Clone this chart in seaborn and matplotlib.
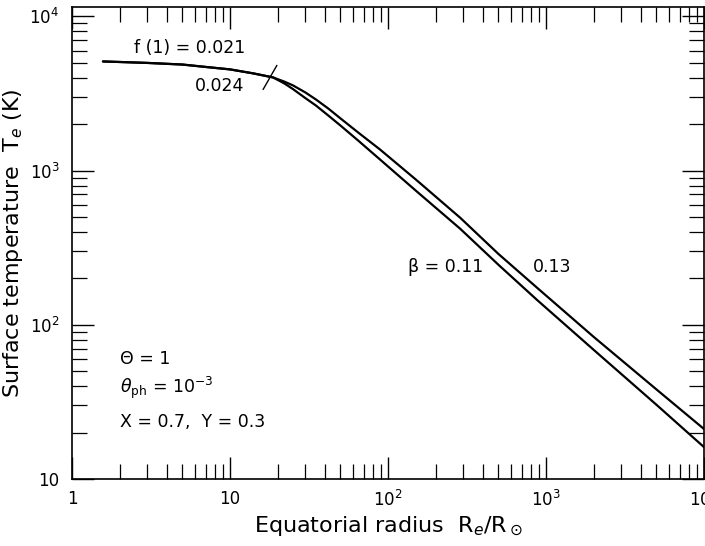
import matplotlib
matplotlib.use("Agg")
import matplotlib.pyplot as plt
import seaborn as sns
import pandas as pd

# ---- data ----
radius = [1.57, 2, 3, 5, 7, 10, 14, 18.7, 22, 25, 30, 35, 42, 50, 65, 89, 150, 286, 500, 877, 2000, 5000, 10000]
temp_beta013 = [5100, 5060, 4990, 4870, 4700, 4530, 4270, 4020, 3780, 3570, 3210, 2890, 2520, 2180, 1760, 1370, 875, 495, 288, 174, 83.6, 38.1, 21.1]
temp_beta011 = [5100, 5060, 4990, 4870, 4700, 4530, 4270, 4020, 3680, 3380, 2950, 2640, 2270, 1960, 1560, 1180, 741, 420, 245, 145, 68.9, 30.3, 16.1]

slash_x = [16.2, 19.8]
slash_y = [3357, 4810]

x_ticks = [1, 10, 100, 1000, 10000]
x_ticklabels = ["1", "10", "10$^2$", "10$^3$", "10$^4$"]
y_ticks = [10, 100, 1000, 10000]
y_ticklabels = ["10", "10$^2$", "10$^3$", "10$^4$"]

sns.set_theme(style="ticks")
plt.rcParams["font.family"] = ["DejaVu Sans"]
plt.rcParams["mathtext.fontset"] = "dejavusans"
for key in ["text.color", "axes.labelcolor", "xtick.color", "ytick.color", "axes.edgecolor"]:
    plt.rcParams[key] = "black"

df = pd.DataFrame({
    "R": radius * 2,
    "T": temp_beta013 + temp_beta011,
    "curve": ["0.13"] * len(radius) + ["0.11"] * len(radius),
})

fig = plt.figure(figsize=(7.05, 5.46), dpi=100)
ax = fig.add_axes([72 / 705, 67 / 546, 632 / 705, 472 / 546])

sns.lineplot(data=df, x="R", y="T", units="curve", estimator=None,
             color="black", linewidth=1.6, ax=ax, legend=False, sort=False)
ax.plot(slash_x, slash_y, color="black", linewidth=1.0)

ax.set_xscale("log")
ax.set_yscale("log")
ax.set_xlim(1, 10000)
ax.set_ylim(10, 11500)

ax.set_xticks(x_ticks)
ax.set_xticklabels(x_ticklabels)
ax.set_yticks(y_ticks)
ax.set_yticklabels(y_ticklabels)

ax.tick_params(which="both", direction="in", top=True, right=True, color="black",
               labelcolor="black", labelsize=12)
ax.tick_params(which="major", length=16, width=1.0)
ax.tick_params(which="minor", length=11, width=0.9)
ax.tick_params(axis="x", which="major", pad=8)
ax.tick_params(axis="y", which="major", pad=9)
for s in ax.spines.values():
    s.set_linewidth(1.2)
    s.set_color("black")

ax.set_xlabel("Equatorial radius  R$_e$/R$_\\odot$", fontsize=16, labelpad=3)
ax.set_ylabel("Surface temperature  T$_e$ (K)", fontsize=16, labelpad=3)

ax.text(5.58, 6190, "f (1) = 0.021", fontsize=12.5, ha="center", va="center")
ax.text(8.65, 3510, "0.024", fontsize=12.5, ha="center", va="center")
ax.text(399, 238, "β = 0.11", fontsize=12.5, ha="right", va="center")
ax.text(828, 238, "0.13", fontsize=12.5, ha="left", va="center")

ax.text(2.01, 60, "Θ = 1", fontsize=12.5, ha="left", va="center")
ax.text(2.01, 39, "$\\mathit{\\theta}_{\\rm ph}$ = 10$^{-3}$", fontsize=12.5, ha="left", va="center")
ax.text(2.01, 23.4, "X = 0.7,  Y = 0.3", fontsize=12.5, ha="left", va="center")

fig.savefig("out.png", dpi=100)
